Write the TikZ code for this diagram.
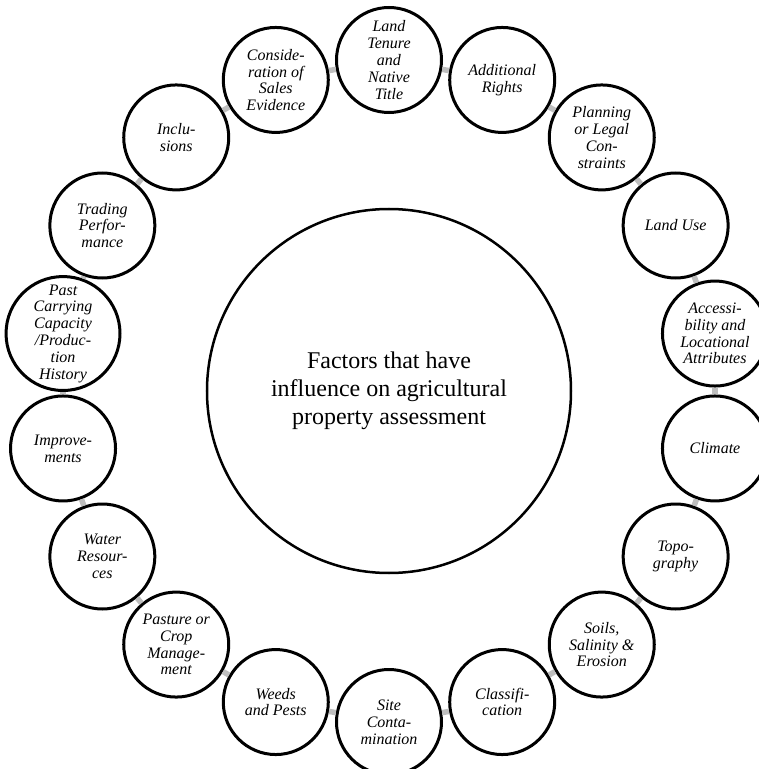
\documentclass[tikz,border=0pt]{standalone}
\usepackage{fontspec}
\setmainfont{Liberation Serif}
\begin{document}
\begin{tikzpicture}[x=1pt,y=1pt]
		%---------------- Colors & styles ----------------
		\definecolor{linkgray}{RGB}{190,190,190} % gray ring links
		\tikzset{
			hub/.style={circle, draw=black, line width=2.5pt, fill=white,
				minimum size=364pt, inner sep=0pt, align=center,
				font=\fontsize{24}{28}\selectfont},               % central circle
			factor/.style={circle, draw=black, line width=3pt, fill=white,
				minimum size=105pt, inner sep=0pt, align=center,
				font=\itshape\fontsize{16}{16.8}\selectfont},     % small circles
			link/.style={linkgray, line width=5.5pt},             % gray ring links
		}
		
		%---------------- Ring radius ----------------
		\def\ringr{331}
		
		%---------------- Canvas ----------------
		\useasboundingbox (-389,-378) rectangle (370,391);
		
		%---------------- Central circle ----------------
		\node[hub] (hub) at (0,0) {Factors that have\\influence on agricultural\\property assessment};
		
		%---------------- Factors, clockwise from the top ----------------
		\node[factor] (tenure)   at (90:\ringr)   {Land\\Tenure\\and\\Native\\Title};
		\node[factor] (rights)   at (70:\ringr)   {Additional\\Rights};
		\node[factor] (planning) at (50:\ringr)   {Planning\\or Legal\\Con-\\straints};
		\node[factor] (landuse)  at (30:\ringr)   {Land Use};
		\node[factor] (access)   at (10:\ringr)   {Accessi-\\bility and\\Locational\\Attributes};
		\node[factor] (climate)  at (-10:\ringr)  {Climate};
		\node[factor] (topo)     at (-30:\ringr)  {Topo-\\graphy};
		\node[factor] (soils)    at (-50:\ringr)  {Soils,\\Salinity \&\\Erosion};
		\node[factor] (classif)  at (-70:\ringr)  {Classifi-\\cation};
		\node[factor] (site)     at (-90:\ringr)  {Site\\Conta-\\mination};
		\node[factor] (weeds)    at (-110:\ringr) {Weeds\\and Pests};
		\node[factor] (pasture)  at (-130:\ringr) {Pasture or\\Crop\\Manage-\\ment};
		\node[factor] (water)    at (-150:\ringr) {Water\\Resour-\\ces};
		\node[factor] (improve)  at (-170:\ringr) {Improve-\\ments};
		\node[factor] (history)  at (170:\ringr)  {Past\\Carrying\\Capacity\\/Produc-\\tion\\History};
		\node[factor] (trading)  at (150:\ringr)  {Trading\\Perfor-\\mance};
		\node[factor] (inclus)   at (130:\ringr)  {Inclu-\\sions};
		\node[factor] (sales)    at (110:\ringr)  {Conside-\\ration of\\Sales\\Evidence};
		
		%---------------- Gray links round the ring ----------------
		\draw[link] (tenure) -- (rights);
		\draw[link] (rights) -- (planning);
		\draw[link] (planning) -- (landuse);
		\draw[link] (landuse) -- (access);
		\draw[link] (access) -- (climate);
		\draw[link] (climate) -- (topo);
		\draw[link] (topo) -- (soils);
		\draw[link] (soils) -- (classif);
		\draw[link] (classif) -- (site);
		\draw[link] (site) -- (weeds);
		\draw[link] (weeds) -- (pasture);
		\draw[link] (pasture) -- (water);
		\draw[link] (water) -- (improve);
		\draw[link] (improve) -- (history);
		\draw[link] (history) -- (trading);
		\draw[link] (trading) -- (inclus);
		\draw[link] (inclus) -- (sales);
		\draw[link] (sales) -- (tenure);
	\end{tikzpicture}
\end{document}
